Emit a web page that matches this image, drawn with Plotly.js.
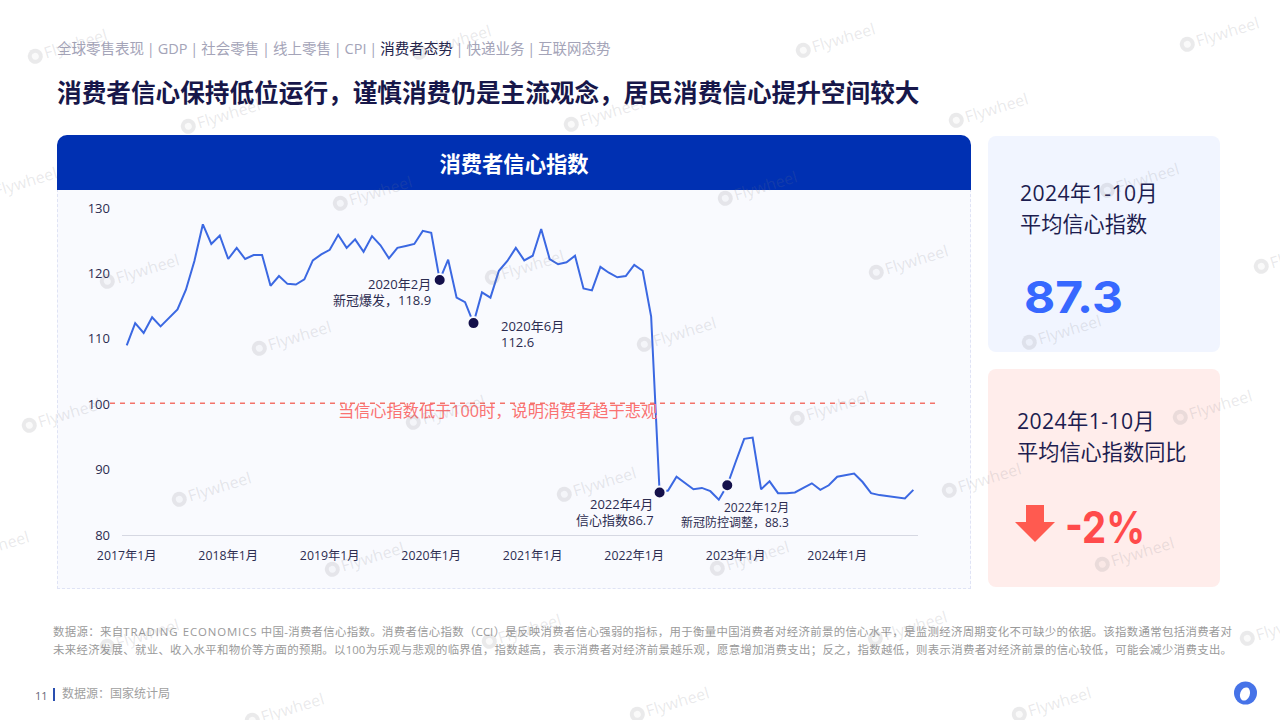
<!DOCTYPE html>
<html lang="zh"><head><meta charset="utf-8">
<script src="https://cdn.plot.ly/plotly-3.0.1.min.js"></script>
<style>
html,body{margin:0;padding:0;background:#fff;width:1280px;height:720px;overflow:hidden;font-family:"Open Sans","Noto Sans CJK SC",sans-serif}
.a{position:absolute;white-space:nowrap;line-height:1}
#nav{left:57px;top:42px;font-size:14.5px;color:#a4a4b8;word-spacing:-0.9px}
#nav b{font-weight:400;color:#22224a}
#title{left:57px;top:79px;font-size:24.65px;font-weight:700;color:#17174a;font-family:"Noto Sans CJK SC",sans-serif}
#panel{left:57px;top:189px;width:912px;height:398px;background:#f9fafe;border:1px dashed #dfe3f5}
#head{left:57px;top:135px;width:914px;height:55px;background:#0030b2;border-radius:10px 10px 0 0;color:#fff;font-size:21.3px;font-weight:700;line-height:56px;text-align:center;font-family:"Noto Sans CJK SC",sans-serif}
.card{position:absolute;width:232px;border-radius:8px}
.cardt{font-size:21.2px;line-height:31px;color:#1d1d50;white-space:nowrap;position:absolute}
.cardt span{letter-spacing:.4px}
#chart{position:absolute;left:0;top:0;width:1280px;height:720px}
.note{left:53px;width:1179px;font-size:11.4px;color:#9a9a9a;white-space:normal;text-align:justify;text-align-last:justify}
.note span{letter-spacing:.9px}
#wm{position:absolute;left:0;top:0;width:1280px;height:720px;overflow:hidden;pointer-events:none}
.w{position:absolute;font-family:"Noto Sans",sans-serif;font-size:16px;line-height:20px;color:rgba(120,120,130,.16);transform:rotate(-17deg);transform-origin:0 50%;white-space:nowrap}
.w i{display:inline-block;box-sizing:border-box;width:15px;height:15px;border-radius:50%;border:4px solid rgba(120,120,130,.13);background:rgba(120,120,130,.04);margin-right:2px;vertical-align:-2px}
</style></head><body>
<div class="a" id="nav">全球零售表现 | GDP | 社会零售 | 线上零售 | CPI | <b>消费者态势</b> | 快递业务 | 互联网态势</div>
<div class="a" id="title">消费者信心保持低位运行，谨慎消费仍是主流观念，居民消费信心提升空间较大</div>
<div class="a" id="panel"></div>
<div class="a" id="head">消费者信心指数</div>
<div class="card" style="left:988px;top:136px;height:216px;background:#f1f5ff"></div>
<div class="card" style="left:988px;top:369px;height:218px;background:#ffedeb"></div>
<div class="cardt" style="left:1020px;top:177px"><span>2024年1-10月</span><br>平均信心指数</div>
<div class="cardt" style="left:1017px;top:405px"><span>2024年1-10月</span><br>平均信心指数同比</div>
<div class="a" style="left:1024px;top:275px;font:700 44px/44px Inter,sans-serif;color:#3768ff;transform:scaleX(1.09);transform-origin:0 50%">87.3</div>
<div class="a" style="left:1065px;top:505px;font:700 44px/44px Inter,sans-serif;color:#ff4b4b;transform:scaleX(.87);transform-origin:0 50%">-2%</div>
<svg style="position:absolute;left:1014px;top:503px" width="42" height="40"><polygon points="12,2 30,2 30,19 41,19 21,39 1,19 12,19" fill="#ff5a50"/></svg>
<div id="chart"></div>
<div class="a note" style="top:626px">数据源：来自<span>TRADING ECONOMICS</span> 中国-消费者信心指数。消费者信心指数（CCI）是反映消费者信心强弱的指标，用于衡量中国消费者对经济前景的信心水平，是监测经济周期变化不可缺少的依据。该指数通常包括消费者对</div>
<div class="a note" style="top:644px">未来经济发展、就业、收入水平和物价等方面的预期。以100为乐观与悲观的临界值，指数越高，表示消费者对经济前景越乐观，愿意增加消费支出；反之，指数越低，则表示消费者对经济前景的信心较低，可能会减少消费支出。</div>
<div class="a" style="left:35px;top:690px;font-size:11px;color:#667">11</div>
<div class="a" style="left:53px;top:688px;width:2px;height:13px;background:#2a4fb0"></div>
<div class="a" style="left:62px;top:688px;font-size:12px;color:#a0a0a0">数据源：国家统计局</div>
<svg style="position:absolute;left:1233px;top:680px" width="25" height="26"><circle cx="12.5" cy="13" r="11.5" fill="#4673e8"/><ellipse cx="12" cy="14" rx="4.8" ry="6.8" transform="rotate(20 12 14)" fill="#fff"/></svg>
<div id="wm"></div>
<script>
const months = [
"2017年1月","2017年2月","2017年3月","2017年4月","2017年5月","2017年6月","2017年7月","2017年8月","2017年9月","2017年10月","2017年11月","2017年12月",
"2018年1月","2018年2月","2018年3月","2018年4月","2018年5月","2018年6月","2018年7月","2018年8月","2018年9月","2018年10月","2018年11月","2018年12月",
"2019年1月","2019年2月","2019年3月","2019年4月","2019年5月","2019年6月","2019年7月","2019年8月","2019年9月","2019年10月","2019年11月","2019年12月",
"2020年1月","2020年2月","2020年3月","2020年4月","2020年5月","2020年6月","2020年7月","2020年8月","2020年9月","2020年10月","2020年11月","2020年12月",
"2021年1月","2021年2月","2021年3月","2021年4月","2021年5月","2021年6月","2021年7月","2021年8月","2021年9月","2021年10月","2021年11月","2021年12月",
"2022年1月","2022年2月","2022年3月","2022年4月","2022年5月","2022年6月","2022年7月","2022年8月","2022年9月","2022年10月","2022年11月","2022年12月",
"2023年1月","2023年2月","2023年3月","2023年4月","2023年5月","2023年6月","2023年7月","2023年8月","2023年9月","2023年10月","2023年11月","2023年12月",
"2024年1月","2024年2月","2024年3月","2024年4月","2024年5月","2024年6月","2024年7月","2024年8月","2024年9月","2024年10月"];
const confidence = [
109.0,112.4,110.9,113.3,111.9,113.2,114.5,117.5,121.9,127.5,124.5,125.8,
122.2,123.9,122.2,122.8,122.8,118.1,119.6,118.4,118.3,119.1,122.0,122.9,
123.6,125.9,123.9,125.2,123.3,125.7,124.3,122.3,123.9,124.2,124.5,126.5,
126.2,119.0,122.1,116.3,115.6,112.4,117.1,116.3,120.4,121.9,123.9,122.0,
122.7,126.8,122.2,121.4,121.7,122.7,117.7,117.4,121.0,120.1,119.4,119.6,
121.3,120.4,113.4,86.5,86.8,88.9,87.9,87.0,87.2,86.7,85.4,87.6,
91.2,94.7,94.9,87.0,88.2,86.4,86.4,86.5,87.2,87.9,86.9,87.6,
88.9,89.1,89.4,88.1,86.4,86.1,85.9,85.7,85.6,86.9];
const highlightMonths = ["2020年2月","2020年6月","2022年4月","2022年12月"];
const xTicks = ["2017年1月","2018年1月","2019年1月","2020年1月","2021年1月","2022年1月","2023年1月","2024年1月"];
const yTicks = [80,90,100,110,120,130];
const threshold = 100;

const L=122,R=918,T=207.7,B=535;
const px=v=>(v-L)/(R-L), py=v=>(B-v)/(B-T);
const ink="#2c2c50";
const fam='"Open Sans","Noto Sans CJK SC",sans-serif';
function note(text,x,y,anchor,color,size){
  return {text:text,xref:"paper",yref:"paper",x:px(x),y:py(y),xanchor:anchor,yanchor:"middle",showarrow:false,borderpad:0,borderwidth:0,
    font:{size:size||13,color:color||ink,family:fam}};
}
const traces=[
 {type:"scatter",mode:"lines",x:months,y:confidence,line:{color:"#3b68e2",width:2},hoverinfo:"skip"},
 {type:"scatter",mode:"markers",x:highlightMonths,y:highlightMonths.map(m=>confidence[months.indexOf(m)]),
  marker:{size:12,color:"#14104a",line:{color:"#f9fafe",width:2}},hoverinfo:"skip"}
];
const layout={
 width:1280,height:720,showlegend:false,paper_bgcolor:"rgba(0,0,0,0)",plot_bgcolor:"rgba(0,0,0,0)",
 margin:{l:L,r:1280-R,t:T,b:720-B,pad:0},
 font:{family:fam,size:12.3,color:ink},
 xaxis:{type:"category",categoryorder:"array",categoryarray:months,range:[-0.56,93.55],tickmode:"array",tickvals:xTicks,ticktext:xTicks,
   tickangle:0,showgrid:false,zeroline:false,showline:true,linecolor:"#d6d8e2",linewidth:1,ticks:"",ticklabelstandoff:9,tickfont:{size:12.3,color:ink}},
 yaxis:{range:[80,130],tickmode:"array",tickvals:yTicks,ticktext:yTicks.map(String),showgrid:false,zeroline:false,showline:false,ticks:"",ticklabelstandoff:11,tickfont:{size:13,color:ink}},
 shapes:[{type:"line",xref:"paper",yref:"y",x0:px(110),x1:px(938),y0:threshold+0.15,y1:threshold+0.15,line:{color:"#f4736a",width:1.5,dash:"5px,5px"},layer:"below"}],
 annotations:[
  note("2020年2月",431,284,"right"),note("新冠爆发，118.9",431,300,"right"),
  note("2020年6月",501,326,"left"),note("112.6",501,342,"left"),
  note("2022年4月",653,504,"right"),note("信心指数86.7",654,520,"right"),
  note("2022年12月",789,507,"right",ink,12),note("新冠防控调整，88.3",789,522,"right",ink,12),
  note("当信心指数低于100时，说明消费者趋于悲观",497,411,"center","#fa7272",16.2)
 ]
};
Plotly.newPlot("chart",traces,layout,{displayModeBar:false,staticPlot:true});

const wmSpots=[[28,58],[412,54],[796,52],[1180,46],[181,128],[564,126],[949,122],[-22,196],[333,205],[718,200],[1100,192],[100,283],[485,279],[869,274],[1254,268],[252,350],[637,346],[1022,344],[22,427],[406,424],[790,420],[1173,419],[172,501],[557,496],[942,492],[-50,560],[325,571],[710,570],[1095,566],[100,648],[482,643],[868,640],[1240,640],[245,722],[630,716],[1012,716]];
const wm=document.getElementById("wm");
wmSpots.forEach(p=>{const d=document.createElement("div");d.className="w";d.style.left=p[0]+"px";d.style.top=(p[1]-10)+"px";d.innerHTML="<i></i>Flywheel";wm.appendChild(d);});
</script>
</body></html>
